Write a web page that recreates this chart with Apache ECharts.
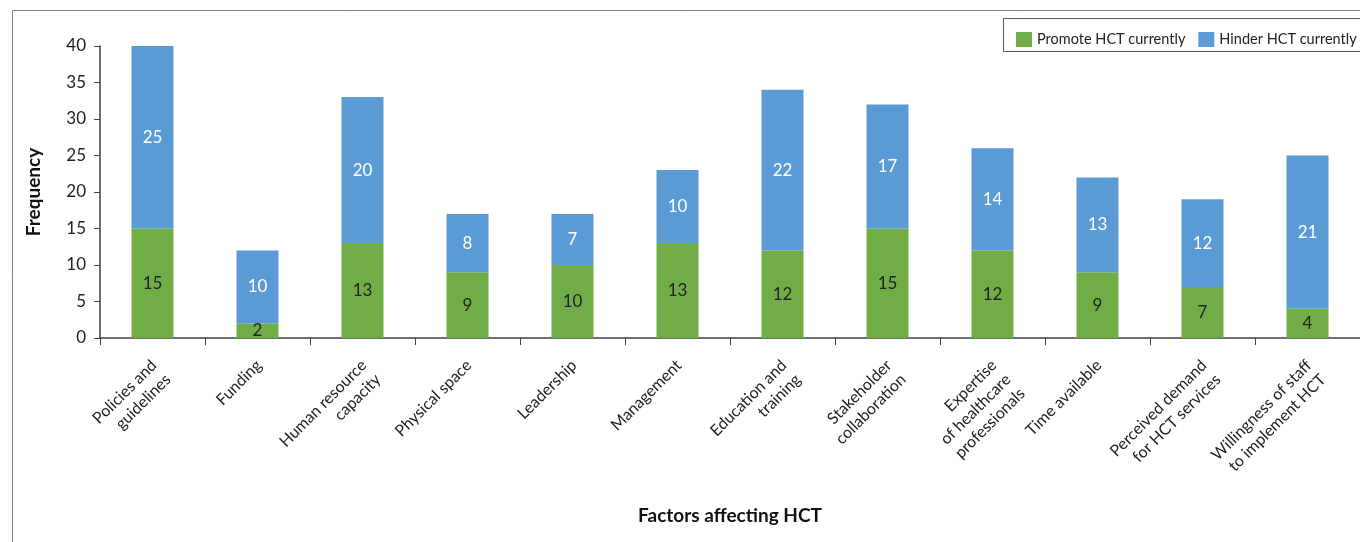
<!DOCTYPE html>
<html>
<head>
<meta charset="utf-8">
<script src="https://cdn.jsdelivr.net/npm/echarts@6/dist/echarts.min.js"></script>
<style>
html,body{margin:0;padding:0;background:#fff;}
#chart{width:1360px;height:542px;}
</style>
</head>
<body>
<div id="chart"></div>
<script>
const categories = [
  'Policies and\nguidelines',
  'Funding',
  'Human resource\ncapacity',
  'Physical space',
  'Leadership',
  'Management',
  'Education and\ntraining',
  'Stakeholder\ncollaboration',
  'Expertise\nof healthcare\nprofessionals',
  'Time available',
  'Perceived demand\nfor HCT services',
  'Willingness of staff\nto implement HCT'
];
const promoteValues = [15, 2, 13, 9, 10, 13, 12, 15, 12, 9, 7, 4];
const hinderValues = [25, 10, 20, 8, 7, 10, 22, 17, 14, 13, 12, 21];
const yTicks = { min: 0, max: 40, interval: 5 };

const FONT = 'Lato';
const chart = echarts.init(document.getElementById('chart'));
chart.setOption({
  animation: false,
  textStyle: { fontFamily: FONT },
  graphic: [
    { type: 'rect', shape: { x: 12.5, y: 10.5, width: 1400, height: 600 },
      style: { fill: 'none', stroke: '#7f7f7f', lineWidth: 1 }, z: -1 },
    { type: 'rect', shape: { x: 1003.5, y: 18.5, width: 400, height: 33 },
      style: { fill: '#fff', stroke: '#595959', lineWidth: 1 }, z: 0 }
  ],
  legend: {
    left: 1011, top: 27, width: 500, orient: 'horizontal',
    itemWidth: 16, itemHeight: 15, itemGap: 13,
    icon: 'rect',
    textStyle: { fontFamily: FONT, fontSize: 14.5, color: '#222' },
    z: 5
  },
  grid: { left: 100, right: 0, top: 46, bottom: 204 },
  xAxis: {
    type: 'category',
    data: categories,
    name: 'Factors affecting HCT',
    nameLocation: 'middle',
    nameGap: 168,
    nameTextStyle: { fontFamily: FONT, fontSize: 19, fontWeight: 'bold', color: '#111' },
    axisLine: { lineStyle: { color: '#404040', width: 1.5 } },
    axisTick: { show: true, alignWithLabel: false, length: 7, lineStyle: { color: '#404040' } },
    axisLabel: {
      rotate: 45, interval: 0, margin: 12, fontSize: 16, color: '#222', fontFamily: FONT,
      lineHeight: 20, verticalAlign: 'top', padding: [0, 8, 0, 0]
    }
  },
  yAxis: {
    type: 'value',
    min: yTicks.min, max: yTicks.max, interval: yTicks.interval,
    name: 'Frequency',
    nameLocation: 'middle',
    nameGap: 57,
    nameTextStyle: { fontFamily: FONT, fontSize: 19, fontWeight: 'bold', color: '#111' },
    splitLine: { show: false },
    axisLine: { show: true, lineStyle: { color: '#404040', width: 1.5 } },
    axisTick: { show: true, length: 6, lineStyle: { color: '#404040' } },
    axisLabel: { fontSize: 17, color: '#222', margin: 14, fontFamily: FONT }
  },
  series: [
    {
      name: 'Promote HCT currently', type: 'bar', stack: 'total',
      data: promoteValues, barWidth: '40%',
      itemStyle: { color: '#70AD47' },
      label: { show: true, position: 'inside', color: '#222', fontSize: 17, fontFamily: FONT }
    },
    {
      name: 'Hinder HCT currently', type: 'bar', stack: 'total',
      data: hinderValues, barWidth: '40%',
      itemStyle: { color: '#5B9BD5' },
      label: { show: true, position: 'inside', color: '#fff', fontSize: 17, fontFamily: FONT }
    }
  ]
});
</script>
</body>
</html>
